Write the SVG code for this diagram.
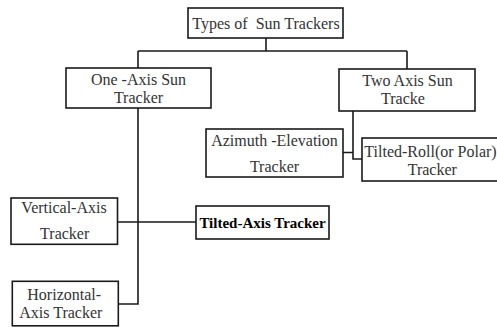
<svg xmlns="http://www.w3.org/2000/svg" width="497" height="327" viewBox="0 0 497 327">
<style>
.box{fill:#fff;stroke:#1a1a1a;stroke-width:1.6}
.t{font-family:'Liberation Serif','Times New Roman',serif;font-size:16px;fill:#333;text-anchor:middle}
.b{font-weight:bold;fill:#000;font-size:15px}
.c{fill:none;stroke:#1a1a1a;stroke-width:1.6}
</style>
<rect width="497" height="327" fill="#fff"/>
<g id="connectors">
<path class="c" d="M266 38V51M138 51H407M138 51V68M407 51V69"/>
<path class="c" d="M138 108V304H118M117.5 222H196"/>
<path class="c" d="M353 111V159H362M343 152.5H353"/>
</g>
<g id="n-root">
<rect class="box" x="188" y="8" width="155" height="30"/>
<text class="t" x="266" y="29.3" xml:space="preserve">Types of  Sun Trackers</text>
</g>
<g id="n-one">
<rect class="box" x="66" y="68" width="145" height="40"/>
<text class="t" x="138.5" y="85">One -Axis Sun</text>
<text class="t" x="138.5" y="103">Tracker</text>
</g>
<g id="n-two">
<rect class="box" x="339" y="69" width="136" height="42"/>
<text class="t" x="407.5" y="86">Two Axis Sun</text>
<text class="t" x="403" y="104">Tracke</text>
</g>
<g id="n-azimuth">
<rect class="box" x="206" y="129" width="137" height="48"/>
<text class="t" x="274.5" y="146">Azimuth -Elevation</text>
<text class="t" x="274.5" y="171.7">Tracker</text>
</g>
<g id="n-polar">
<rect class="box" x="362" y="138" width="137" height="43"/>
<text class="t" x="430.5" y="156.7">Tilted-Roll(or Polar)</text>
<text class="t" x="432.3" y="175">Tracker</text>
</g>
<g id="n-vertical">
<rect class="box" x="11" y="198" width="106.5" height="46.3"/>
<text class="t" x="64" y="213.3">Vertical-Axis</text>
<text class="t" x="64.7" y="239.3">Tracker</text>
</g>
<g id="n-tilted">
<rect class="box" x="196" y="206" width="133" height="33"/>
<text class="t b" x="262.5" y="228.3">Tilted-Axis Tracker</text>
</g>
<g id="n-horizontal">
<rect class="box" x="12.3" y="281.3" width="106" height="44.5"/>
<text class="t" x="64.2" y="300">Horizontal-</text>
<text class="t" x="60.8" y="318.3">Axis Tracker</text>
</g>
</svg>
